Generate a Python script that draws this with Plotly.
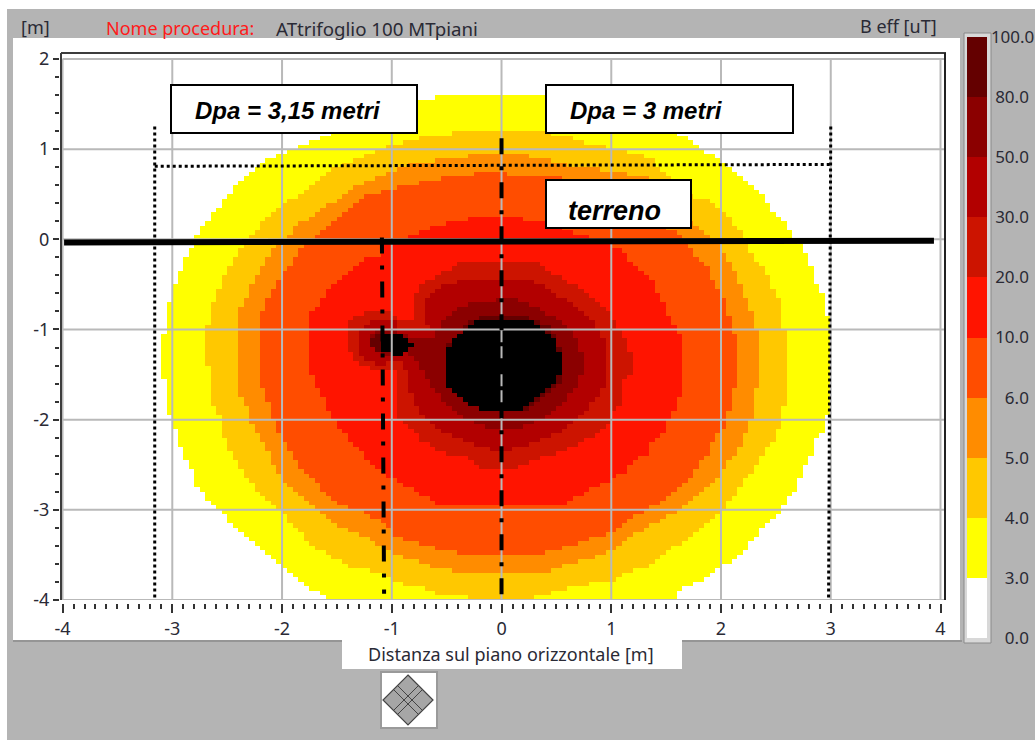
import numpy as np
import plotly.graph_objects as go

# ---- data (metres) ----
band_3 = [(-0.56,1.585),(-0.01,1.585),(0.40,1.585),(0.81,1.52),(1.26,1.33),(1.60,1.175),(1.79,1.05),(1.84,1.00),(2.08,0.81),(2.33,0.55),(2.47,0.33),(2.63,0.11),(2.63,0.055),(2.74,-0.09),(2.79,-0.20),(2.84,-0.355),(2.88,-0.50),(2.95,-0.665),(2.97,-0.85),(3.00,-0.98),(3.00,-1.885),(2.95,-1.97),(2.93,-2.16),(2.88,-2.195),(2.84,-2.35),(2.79,-2.49),(2.74,-2.605),(2.69,-2.79),(2.60,-2.86),(2.56,-2.99),(2.54,-3.02),(2.45,-3.10),(2.34,-3.25),(2.24,-3.44),(2.08,-3.58),(1.99,-3.65),(1.84,-3.79),(1.65,-3.88),(1.54,-4.02),(-1.54,-4.02),(-1.72,-3.88),(-1.86,-3.79),(-1.99,-3.64),(-2.18,-3.47),(-2.29,-3.33),(-2.47,-3.14),(-2.55,-3.02),(-2.66,-2.90),(-2.77,-2.75),(-2.81,-2.61),(-2.90,-2.38),(-2.95,-2.24),(-2.99,-2.00),(-3.05,-1.90),(-3.05,-1.80),(-3.09,-1.44),(-3.09,-1.20),(-3.05,-0.80),(-2.99,-0.58),(-2.95,-0.41),(-2.90,-0.30),(-2.86,-0.17),(-2.81,-0.08),(-2.77,0.055),(-2.70,0.17),(-2.60,0.33),(-2.45,0.55),(-2.26,0.78),(-2.11,0.89),(-1.91,1.00),(-1.65,1.11),(-1.43,1.275),(-1.11,1.42),(-0.76,1.54)]
band_4 = [(-0.44,1.175),(0.44,1.175),(0.64,1.13),(0.83,1.05),(1.08,1.00),(1.35,0.91),(1.47,0.75),(1.74,0.48),(1.93,0.41),(2.11,0.19),(2.19,0.055),(2.24,-0.055),(2.29,-0.20),(2.38,-0.31),(2.45,-0.42),(2.47,-0.55),(2.54,-0.70),(2.56,-0.94),(2.59,-1.02),(2.59,-1.83),(2.55,-1.91),(2.55,-2.08),(2.48,-2.13),(2.48,-2.24),(2.44,-2.25),(2.38,-2.38),(2.34,-2.46),(2.28,-2.58),(2.19,-2.69),(2.15,-2.79),(2.08,-2.90),(2.04,-2.99),(1.99,-3.03),(1.81,-3.19),(1.69,-3.33),(1.51,-3.47),(1.33,-3.64),(1.14,-3.69),(1.01,-3.79),(0.90,-3.80),(0.60,-3.88),(0.29,-3.98),(0.29,-4.02),(-0.27,-4.02),(-0.27,-3.98),(-0.56,-3.94),(-0.68,-3.88),(-0.83,-3.85),(-0.99,-3.79),(-1.08,-3.69),(-1.32,-3.66),(-1.52,-3.55),(-1.72,-3.40),(-1.84,-3.24),(-2.00,-3.03),(-2.09,-2.96),(-2.20,-2.83),(-2.30,-2.69),(-2.36,-2.61),(-2.41,-2.49),(-2.51,-2.27),(-2.56,-2.02),(-2.60,-1.86),(-2.66,-1.80),(-2.66,-1.42),(-2.70,-1.35),(-2.70,-1.16),(-2.66,-0.81),(-2.60,-0.63),(-2.56,-0.50),(-2.50,-0.355),(-2.45,-0.24),(-2.41,-0.14),(-2.36,-0.08),(-2.26,0.055),(-2.18,0.17),(-2.00,0.355),(-1.75,0.59),(-1.50,0.81),(-1.22,0.94),(-1.11,1.00),(-0.72,1.13)]
band_5 = [(-0.21,0.94),(0.20,0.94),(0.38,0.89),(0.62,0.81),(0.90,0.78),(1.08,0.74),(1.35,0.69),(1.47,0.61),(1.72,0.20),(1.99,-0.055),(2.05,-0.22),(2.15,-0.39),(2.19,-0.55),(2.24,-0.665),(2.29,-0.865),(2.34,-1.09),(2.34,-1.64),(2.29,-1.75),(2.29,-1.97),(2.24,-2.08),(2.19,-2.24),(2.15,-2.35),(2.08,-2.46),(2.04,-2.53),(1.90,-2.74),(1.72,-2.90),(1.55,-3.05),(1.35,-3.18),(1.17,-3.29),(0.99,-3.46),(0.78,-3.55),(0.60,-3.60),(0.44,-3.68),(-0.41,-3.68),(-0.61,-3.64),(-0.76,-3.58),(-0.99,-3.49),(-1.09,-3.41),(-1.24,-3.30),(-1.50,-3.19),(-1.72,-2.97),(-1.84,-2.85),(-1.90,-2.79),(-2.00,-2.64),(-2.09,-2.46),(-2.15,-2.31),(-2.20,-2.195),(-2.25,-2.08),(-2.30,-2.00),(-2.30,-1.91),(-2.36,-1.75),(-2.41,-1.685),(-2.41,-0.90),(-2.36,-0.70),(-2.30,-0.58),(-2.25,-0.44),(-2.20,-0.355),(-2.15,-0.24),(-2.05,-0.08),(-1.84,0.17),(-1.65,0.33),(-1.52,0.42),(-1.45,0.50),(-1.31,0.59),(-1.02,0.75),(-0.83,0.83)]
band_6 = [(-0.10,0.74),(0.10,0.72),(0.41,0.69),(0.90,0.63),(1.26,0.33),(1.47,0.13),(1.60,0.09),(1.69,-0.055),(1.79,-0.22),(1.90,-0.355),(1.99,-0.61),(2.04,-0.70),(2.08,-0.89),(2.15,-1.14),(2.15,-1.64),(2.08,-1.70),(2.08,-1.885),(2.04,-1.97),(2.04,-2.11),(1.99,-2.13),(1.95,-2.195),(1.90,-2.35),(1.84,-2.42),(1.74,-2.61),(1.60,-2.77),(1.44,-2.92),(1.35,-2.99),(1.26,-3.05),(1.11,-3.14),(1.01,-3.24),(0.90,-3.29),(0.74,-3.36),(0.60,-3.40),(0.38,-3.48),(-0.35,-3.48),(-0.56,-3.46),(-0.65,-3.40),(-0.86,-3.35),(-0.99,-3.27),(-1.08,-3.14),(-1.26,-3.03),(-1.47,-2.94),(-1.61,-2.80),(-1.72,-2.66),(-1.84,-2.53),(-1.90,-2.42),(-1.95,-2.31),(-2.00,-2.195),(-2.05,-2.11),(-2.09,-1.97),(-2.11,-1.86),(-2.15,-1.685),(-2.20,-1.57),(-2.20,-0.90),(-2.15,-0.70),(-2.11,-0.61),(-2.05,-0.50),(-1.99,-0.41),(-1.95,-0.31),(-1.90,-0.255),(-1.85,-0.14),(-1.81,-0.09),(-1.65,0.09),(-1.50,0.24),(-1.33,0.37),(-1.22,0.48),(-1.02,0.55),(-0.83,0.61),(-0.65,0.64),(-0.45,0.70)]
band_10 = [(-0.21,0.24),(0.10,0.24),(0.38,0.19),(0.56,0.11),(0.81,0.02),(1.00,-0.055),(1.10,-0.14),(1.19,-0.255),(1.29,-0.355),(1.38,-0.44),(1.44,-0.64),(1.54,-0.865),(1.59,-1.00),(1.64,-1.075),(1.64,-1.74),(1.59,-1.77),(1.59,-1.885),(1.54,-1.97),(1.49,-2.11),(1.44,-2.16),(1.38,-2.25),(1.33,-2.38),(1.24,-2.44),(1.14,-2.57),(1.03,-2.64),(0.96,-2.69),(0.78,-2.80),(0.60,-2.92),(0.44,-2.97),(-0.35,-2.97),(-0.56,-2.94),(-0.72,-2.83),(-0.86,-2.75),(-0.99,-2.66),(-1.08,-2.61),(-1.17,-2.52),(-1.26,-2.38),(-1.36,-2.25),(-1.44,-2.13),(-1.50,-2.05),(-1.54,-1.96),(-1.61,-1.80),(-1.65,-1.685),(-1.72,-1.53),(-1.76,-1.46),(-1.76,-0.91),(-1.72,-0.78),(-1.65,-0.70),(-1.61,-0.61),(-1.50,-0.50),(-1.41,-0.41),(-1.32,-0.31),(-1.23,-0.22),(-1.11,-0.17),(-1.11,-0.08),(-0.72,0.09),(-0.45,0.20)]
band_20 = [(-0.20,-0.24),(0.29,-0.24),(0.44,-0.355),(0.53,-0.42),(0.72,-0.55),(0.83,-0.665),(0.96,-0.78),(1.08,-1.00),(1.19,-1.30),(1.19,-1.50),(1.10,-1.585),(1.10,-1.85),(1.03,-1.885),(1.01,-2.00),(0.92,-2.11),(0.78,-2.22),(0.53,-2.36),(0.29,-2.44),(0.14,-2.55),(-0.15,-2.55),(-0.31,-2.42),(-0.56,-2.36),(-0.74,-2.22),(-0.86,-2.05),(-0.95,-1.96),(-0.97,-1.46),(-1.26,-1.42),(-1.35,-1.30),(-1.41,-1.20),(-1.41,-1.00),(-1.35,-0.865),(-1.22,-0.80),(-1.02,-0.80),(-0.95,-0.89),(-0.81,-0.89),(-0.81,-0.665),(-0.72,-0.50),(-0.61,-0.42),(-0.47,-0.33),(-0.36,-0.24)]
band_30 = [(-0.29,-0.44),(0.23,-0.44),(0.37,-0.52),(0.51,-0.63),(0.69,-0.74),(0.83,-0.91),(0.94,-1.11),(0.94,-1.63),(0.88,-1.74),(0.81,-1.83),(0.69,-2.00),(0.51,-2.14),(0.29,-2.27),(0.00,-2.35),(-0.22,-2.295),(-0.44,-2.195),(-0.62,-2.05),(-0.74,-1.92),(-0.82,-1.74),(-0.86,-1.46),(-0.94,-1.35),(-1.11,-1.39),(-1.26,-1.33),(-1.32,-1.20),(-1.32,-1.09),(-1.26,-1.00),(-1.15,-0.89),(-0.99,-0.89),(-0.91,-1.00),(-0.67,-1.00),(-0.70,-0.665),(-0.61,-0.58),(-0.50,-0.50)]
band_50 = [(-0.01,-0.665),(0.10,-0.665),(0.29,-0.74),(0.51,-0.89),(0.70,-1.11),(0.74,-1.30),(0.74,-1.47),(0.70,-1.585),(0.60,-1.77),(0.38,-2.00),(0.10,-2.11),(-0.20,-2.07),(-0.41,-1.92),(-0.56,-1.74),(-0.67,-1.585),(-0.76,-1.35),(-0.86,-1.25),(-1.06,-1.31),(-1.18,-1.22),(-1.22,-1.11),(-1.15,-1.00),(-0.97,-1.02),(-0.81,-1.09),(-0.62,-1.075),(-0.50,-0.865),(-0.38,-0.74)]
band_80 = [(-0.21,-0.865),(0.23,-0.865),(0.35,-0.92),(0.46,-1.00),(0.51,-1.19),(0.56,-1.30),(0.56,-1.50),(0.51,-1.63),(0.35,-1.80),(0.20,-1.92),(-0.15,-1.92),(-0.31,-1.81),(-0.47,-1.64),(-0.51,-1.50),(-0.51,-1.30),(-0.47,-1.14),(-0.41,-1.075),(-0.27,-0.91)]
band_80_lobe = [(-1.11,-1.03),(-1.22,-1.11),(-1.22,-1.19),(-1.11,-1.25),(-0.97,-1.24),(-0.82,-1.16),(-0.97,-1.05)]
over_100 = [(-0.21,-0.89),(0.23,-0.89),(0.35,-0.965),(0.44,-1.05),(0.50,-1.14),(0.53,-1.275),(0.53,-1.50),(0.49,-1.61),(0.40,-1.685),(0.31,-1.77),(0.20,-1.885),(-0.15,-1.91),(-0.29,-1.83),(-0.42,-1.70),(-0.50,-1.61),(-0.50,-1.22),(-0.45,-1.14),(-0.41,-1.075),(-0.27,-0.965)]
over_100_lobe = [(-1.11,-1.05),(-0.92,-1.05),(-0.86,-1.11),(-0.81,-1.175),(-0.85,-1.22),(-0.92,-1.29),(-1.09,-1.25),(-1.11,-1.11)]

level_labels = ["0.0", "3.0", "4.0", "5.0", "6.0", "10.0", "20.0", "30.0", "50.0", "80.0", "100.0"]
level_colors = ["#ffffff", "#ffff00", "#ffc800", "#ff8c00", "#ff4d00", "#ff1400", "#cc1400", "#b20000", "#8b0000", "#640000"]

x_ticks = [-4, -3, -2, -1, 0, 1, 2, 3, 4]
y_ticks = [-4, -3, -2, -1, 0, 1, 2]
ground_x = [-3.986, 3.94]
ground_y = [-0.035, -0.015]
dpa3_axis_x = [0.0, 0.0]
dpa3_axis_y = [1.12, -4.0]
dpa315_axis_x = [-1.09, -1.07]
dpa315_axis_y = [0.02, -3.93]
dotted_x = [-3.16, -3.16, None, -3.16, 2.99, None, 3.0, 2.98]
dotted_y = [1.25, -4.0, None, 0.81, 0.83, None, 1.25, -4.0]

# ---- layout helpers: reference pixels to paper coordinates ----
W, H = 1035, 740
L, R, T, B = 59, 90, 53, 137
PW, PH = W - L - R, H - T - B
px = lambda v: (v - L) / PW
py = lambda v: (H - B - v) / PH

# ---- raster grid of the instrument (0.05 m cells) ----
cell = 0.05
gx = np.arange(-4, 4.04, cell) + cell / 2
gy = np.arange(-4, 2.06, cell) + cell / 2
XX, YY = np.meshgrid(gx, gy)

def inside(poly):
    xs = np.array([p[0] for p in poly])
    ys = np.array([p[1] for p in poly])
    xn, yn = np.roll(xs, -1), np.roll(ys, -1)
    mask = np.zeros(XX.shape, dtype=bool)
    for a, b, c, d in zip(xs, ys, xn, yn):
        if b == d:
            continue
        cross = ((b > YY) != (d > YY)) & (XX < (c - a) * (YY - b) / (d - b) + a)
        mask ^= cross
    return mask

z = np.full(XX.shape, 0.5)
for i, polys in enumerate([[band_3], [band_4], [band_5], [band_6], [band_10], [band_20], [band_30], [band_50], [band_80, band_80_lobe]]):
    for poly in polys:
        z[inside(poly)] = i + 1.5
z_black = np.where(inside(over_100) | inside(over_100_lobe), 1.0, np.nan)

scale = []
for i, c in enumerate(level_colors):
    scale += [[i / 10, c], [(i + 1) / 10, c]]

# colorbar labels are right-aligned in the reference: pad with fixed-width spaces
pad = {3: "\u2007\u2005", 4: "\u2005", 5: ""}
bar_text = [pad[len(t)] + t for t in level_labels]

text_color = "#2a2a35"
fig = go.Figure()
fig.add_trace(go.Heatmap(
    x=gx, y=gy, z=z, zmin=0, zmax=10, colorscale=scale, hoverinfo="skip",
    colorbar=dict(
        x=px(967), xanchor="left", y=py(37), yanchor="top", thickness=20, thicknessmode="pixels",
        len=601, lenmode="pixels", xpad=0, ypad=0, outlinewidth=0,
        tickmode="array", tickvals=list(range(11)), ticktext=bar_text, ticks="",
        tickfont=dict(family="Noto Sans", size=17, color=text_color),
    ),
))
fig.add_trace(go.Heatmap(x=gx, y=gy, z=z_black, zmin=0, zmax=1, showscale=False,
                         colorscale=[[0, "#000000"], [1, "#000000"]], hoverinfo="skip"))

grid_color = "#b9b9b9"
gxx, gxy, gyx, gyy = [], [], [], []
for t in x_ticks:
    gxx += [t, t, None]
    gxy += [-4, 2, None]
for t in y_ticks:
    gyx += [-4, 4.04, None]
    gyy += [t, t, None]
fig.add_trace(go.Scatter(x=gxx, y=gxy, mode="lines", line=dict(color=grid_color, width=2), hoverinfo="skip"))
fig.add_trace(go.Scatter(x=gyx, y=gyy, mode="lines", line=dict(color=grid_color, width=2), hoverinfo="skip"))

dashdot = "16px,12px,4px,12px"
fig.add_trace(go.Scatter(x=dotted_x, y=dotted_y, mode="lines", line=dict(color="black", width=3, dash="3px,3px"), hoverinfo="skip"))
fig.add_trace(go.Scatter(x=dpa3_axis_x, y=dpa3_axis_y, mode="lines", line=dict(color="black", width=4, dash=dashdot), hoverinfo="skip"))
fig.add_trace(go.Scatter(x=dpa315_axis_x, y=dpa315_axis_y, mode="lines", line=dict(color="black", width=4, dash=dashdot), hoverinfo="skip"))
fig.add_trace(go.Scatter(x=ground_x, y=ground_y, mode="lines", line=dict(color="black", width=6), hoverinfo="skip"))

def rect(x0, y0, x1, y1, fill, line=None, lw=0):
    return dict(type="rect", xref="paper", yref="paper", x0=px(x0), x1=px(x1), y0=py(y0), y1=py(y1),
                fillcolor=fill, line=dict(color=line or fill, width=lw), layer="below")

def seg(x0, y0, x1, y1, color, w, layer="above"):
    return dict(type="line", xref="paper", yref="paper", x0=px(x0), x1=px(x1), y0=py(y0), y1=py(y1),
                line=dict(color=color, width=w), layer=layer)

panel = "#b4b4b4"
shapes = [
    rect(7, 9, W, H, panel),
    rect(13, 38, 960, 640, "#ffffff"),
    rect(342, 640, 682, 669, "#ffffff"),
    seg(13, 641, 342, 641, "#777777", 1, "below"),
    seg(682, 641, 962, 641, "#777777", 1, "below"),
    rect(964, 33, 991, 643, "#d8d8d8", "#8a8a8a", 1),
    rect(381, 672, 437, 728, "#ffffff", "#9a9a9a", 2),
    seg(61, 53, 946, 53, "#3c3c3c", 2),
    seg(61, 53, 61, 600, "#3c3c3c", 2),
    seg(945, 53, 945, 600, "#222222", 2),
    dict(type="path", xref="paper", yref="paper", layer="above",
         path=f"M{px(408)},{py(675)} L{px(433)},{py(700)} L{px(408)},{py(725)} L{px(383)},{py(700)} Z",
         fillcolor="#a6a6a6", line=dict(color="#444444", width=1.2)),
]
for d in (-2, 2):
    shapes.append(seg(395.5 + d, 687.5 - d, 420.5 + d, 712.5 - d, "#444444", 1))
    shapes.append(seg(395.5 + d, 712.5 + d, 420.5 + d, 687.5 + d, "#444444", 1))

# white label boxes
for (x0, y0, x1, y1) in [(171, 85, 417, 133), (546, 85, 793, 133), (546, 180, 691, 228)]:
    b = rect(x0, y0, x1, y1, "#ffffff", "#000000", 2)
    b["layer"] = "above"
    shapes.append(b)

def label(x, y, text, color=text_color, size=18, anchor="left", family="Noto Sans", **kw):
    return dict(xref="paper", yref="paper", x=px(x), y=py(y), text=text, showarrow=False, xanchor=anchor, yanchor="middle",
                font=dict(family=family, size=size, color=color), **kw)

annotations = [
    label(19, 27, "[m]"),
    label(104, 28, "Nome procedura:", color="#ff1a1a"),
    label(274, 28, "ATtrifoglio 100 MTpiani", size=18.7),
    label(858, 26, "B eff [uT]"),
    label(366, 654, "Distanza sul piano orizzontale [m]"),
    label(193, 110, "<b><i>Dpa = 3,15 metri</i></b>", family="Liberation Sans", size=24, color="#000000"),
    label(568, 110, "<b><i>Dpa = 3 metri</i></b>", family="Liberation Sans", size=24, color="#000000"),
    label(566, 211, "<b><i>terreno</i></b>", family="Liberation Sans", size=27, color="#000000"),
]

tick_font = dict(family="Noto Sans", size=18, color=text_color)
fig.update_layout(
    width=W, height=H, autosize=False, showlegend=False,
    margin=dict(l=L, r=R, t=T, b=B, pad=0, autoexpand=False),
    paper_bgcolor="#ffffff", plot_bgcolor="rgba(0,0,0,0)",
    shapes=shapes, annotations=annotations,
    xaxis=dict(domain=[3 / PW, 1], range=[-4.005, 4.041], anchor="free", position=0, showgrid=False, zeroline=False, showline=False,
               tickmode="array", tickvals=x_ticks, ticktext=[str(t) for t in x_ticks], ticks="outside", ticklen=9, tickwidth=2,
               tickcolor="#333333", tickfont=tick_font,
               minor=dict(tick0=-4, dtick=0.1, ticks="outside", ticklen=5, tickwidth=2, tickcolor="#333333", showgrid=False)),
    yaxis=dict(domain=[3 / PH, 1], range=[-4.0, 2.066], anchor="free", position=0, showgrid=False, zeroline=False, showline=False,
               tickmode="array", tickvals=y_ticks, ticktext=[str(t) for t in y_ticks], ticks="outside", ticklen=6, tickwidth=2,
               tickcolor="#333333", tickfont=tick_font,
               minor=dict(tick0=-4, dtick=0.2, ticks="outside", ticklen=4, tickwidth=2, tickcolor="#333333", showgrid=False)),
)

fig.write_html("out.html", config={"displayModeBar": False},
               post_script="document.body.style.margin='0';document.body.style.overflow='hidden';")
